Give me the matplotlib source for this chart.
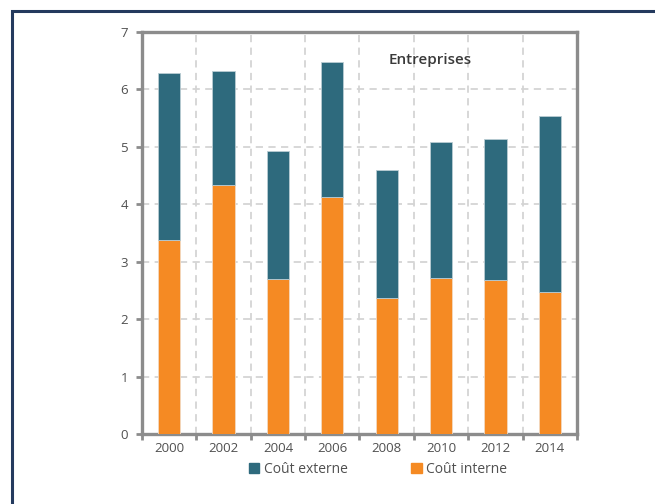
import matplotlib
matplotlib.use("Agg")
import matplotlib.pyplot as plt
from matplotlib.patches import Rectangle, Patch
import numpy as np

plt.rcParams['font.family'] = ['Open Sans', 'DejaVu Sans']

# Data
years = ['2000', '2002', '2004', '2006', '2008', '2010', '2012', '2014']
cout_interne = [3.37, 4.34, 2.70, 4.13, 2.37, 2.72, 2.68, 2.48]
cout_total = [6.29, 6.32, 4.92, 6.47, 4.59, 5.08, 5.14, 5.53]
cout_externe = [t - i for t, i in zip(cout_total, cout_interne)]

teal = '#2e6a7d'
orange = '#f58a23'
spine_grey = '#8c8c8c'
text_grey = '#505050'

fig = plt.figure(figsize=(6.55, 5.04), dpi=100)
ax = fig.add_axes([0.2168, 0.1389, 0.664, 0.7976])

x = np.arange(len(years))
ax.bar(x, cout_interne, width=0.41, color=orange, edgecolor='#f3d9c0',
       linewidth=0.6, zorder=3)
ax.bar(x, cout_externe, width=0.41, bottom=cout_interne, color=teal,
       edgecolor='#b9ccd3', linewidth=0.6, zorder=3)

ax.set_xlim(-0.5, len(years) - 0.5)
ax.set_ylim(0, 7)
ax.set_yticks(range(0, 8))
ax.set_xticks(x)
ax.set_xticklabels(years)
ax.set_xticks(np.arange(-0.5, len(years)), minor=True)

ax.tick_params(axis='x', which='major', length=0, pad=6, labelsize=9.5, labelcolor=text_grey)
ax.tick_params(axis='x', which='minor', length=4, width=2, color=spine_grey, direction='out')
ax.tick_params(axis='y', length=4, width=2, color=spine_grey, pad=6, labelsize=9.5,
               labelcolor=text_grey)

ax.grid(axis='y', which='major', color='#d4d4d4', linestyle=(0, (4, 3)), linewidth=1.3, zorder=0)
ax.grid(axis='x', which='minor', color='#d4d4d4', linestyle=(0, (4, 3)), linewidth=1.3, zorder=0)

for s in ax.spines.values():
    s.set_color(spine_grey)
    s.set_linewidth(2.4)

ax.text(0.568, 0.93, 'Entreprises', transform=ax.transAxes, fontsize=11,
        color='#3a3a3a', fontweight='semibold', va='center')

handles = [Patch(color=teal, label='Coût externe'),
           Patch(color=orange, label='Coût interne')]
fig.legend(handles=handles, loc='center', bbox_to_anchor=(0.577, 0.069), ncol=2,
           frameon=False, fontsize=10, handlelength=0.75, handleheight=0.75,
           handletextpad=0.3, columnspacing=4.6, labelcolor=text_grey)

# dark frame around the figure (cropped on right and bottom)
fig.patches.append(Rectangle((11.5 / 655, -0.2), 1.2, 1.2 - 11.5 / 504,
                             transform=fig.transFigure, fill=False,
                             edgecolor='#243a5e', linewidth=2.2))

fig.savefig('out.png', dpi=100)
